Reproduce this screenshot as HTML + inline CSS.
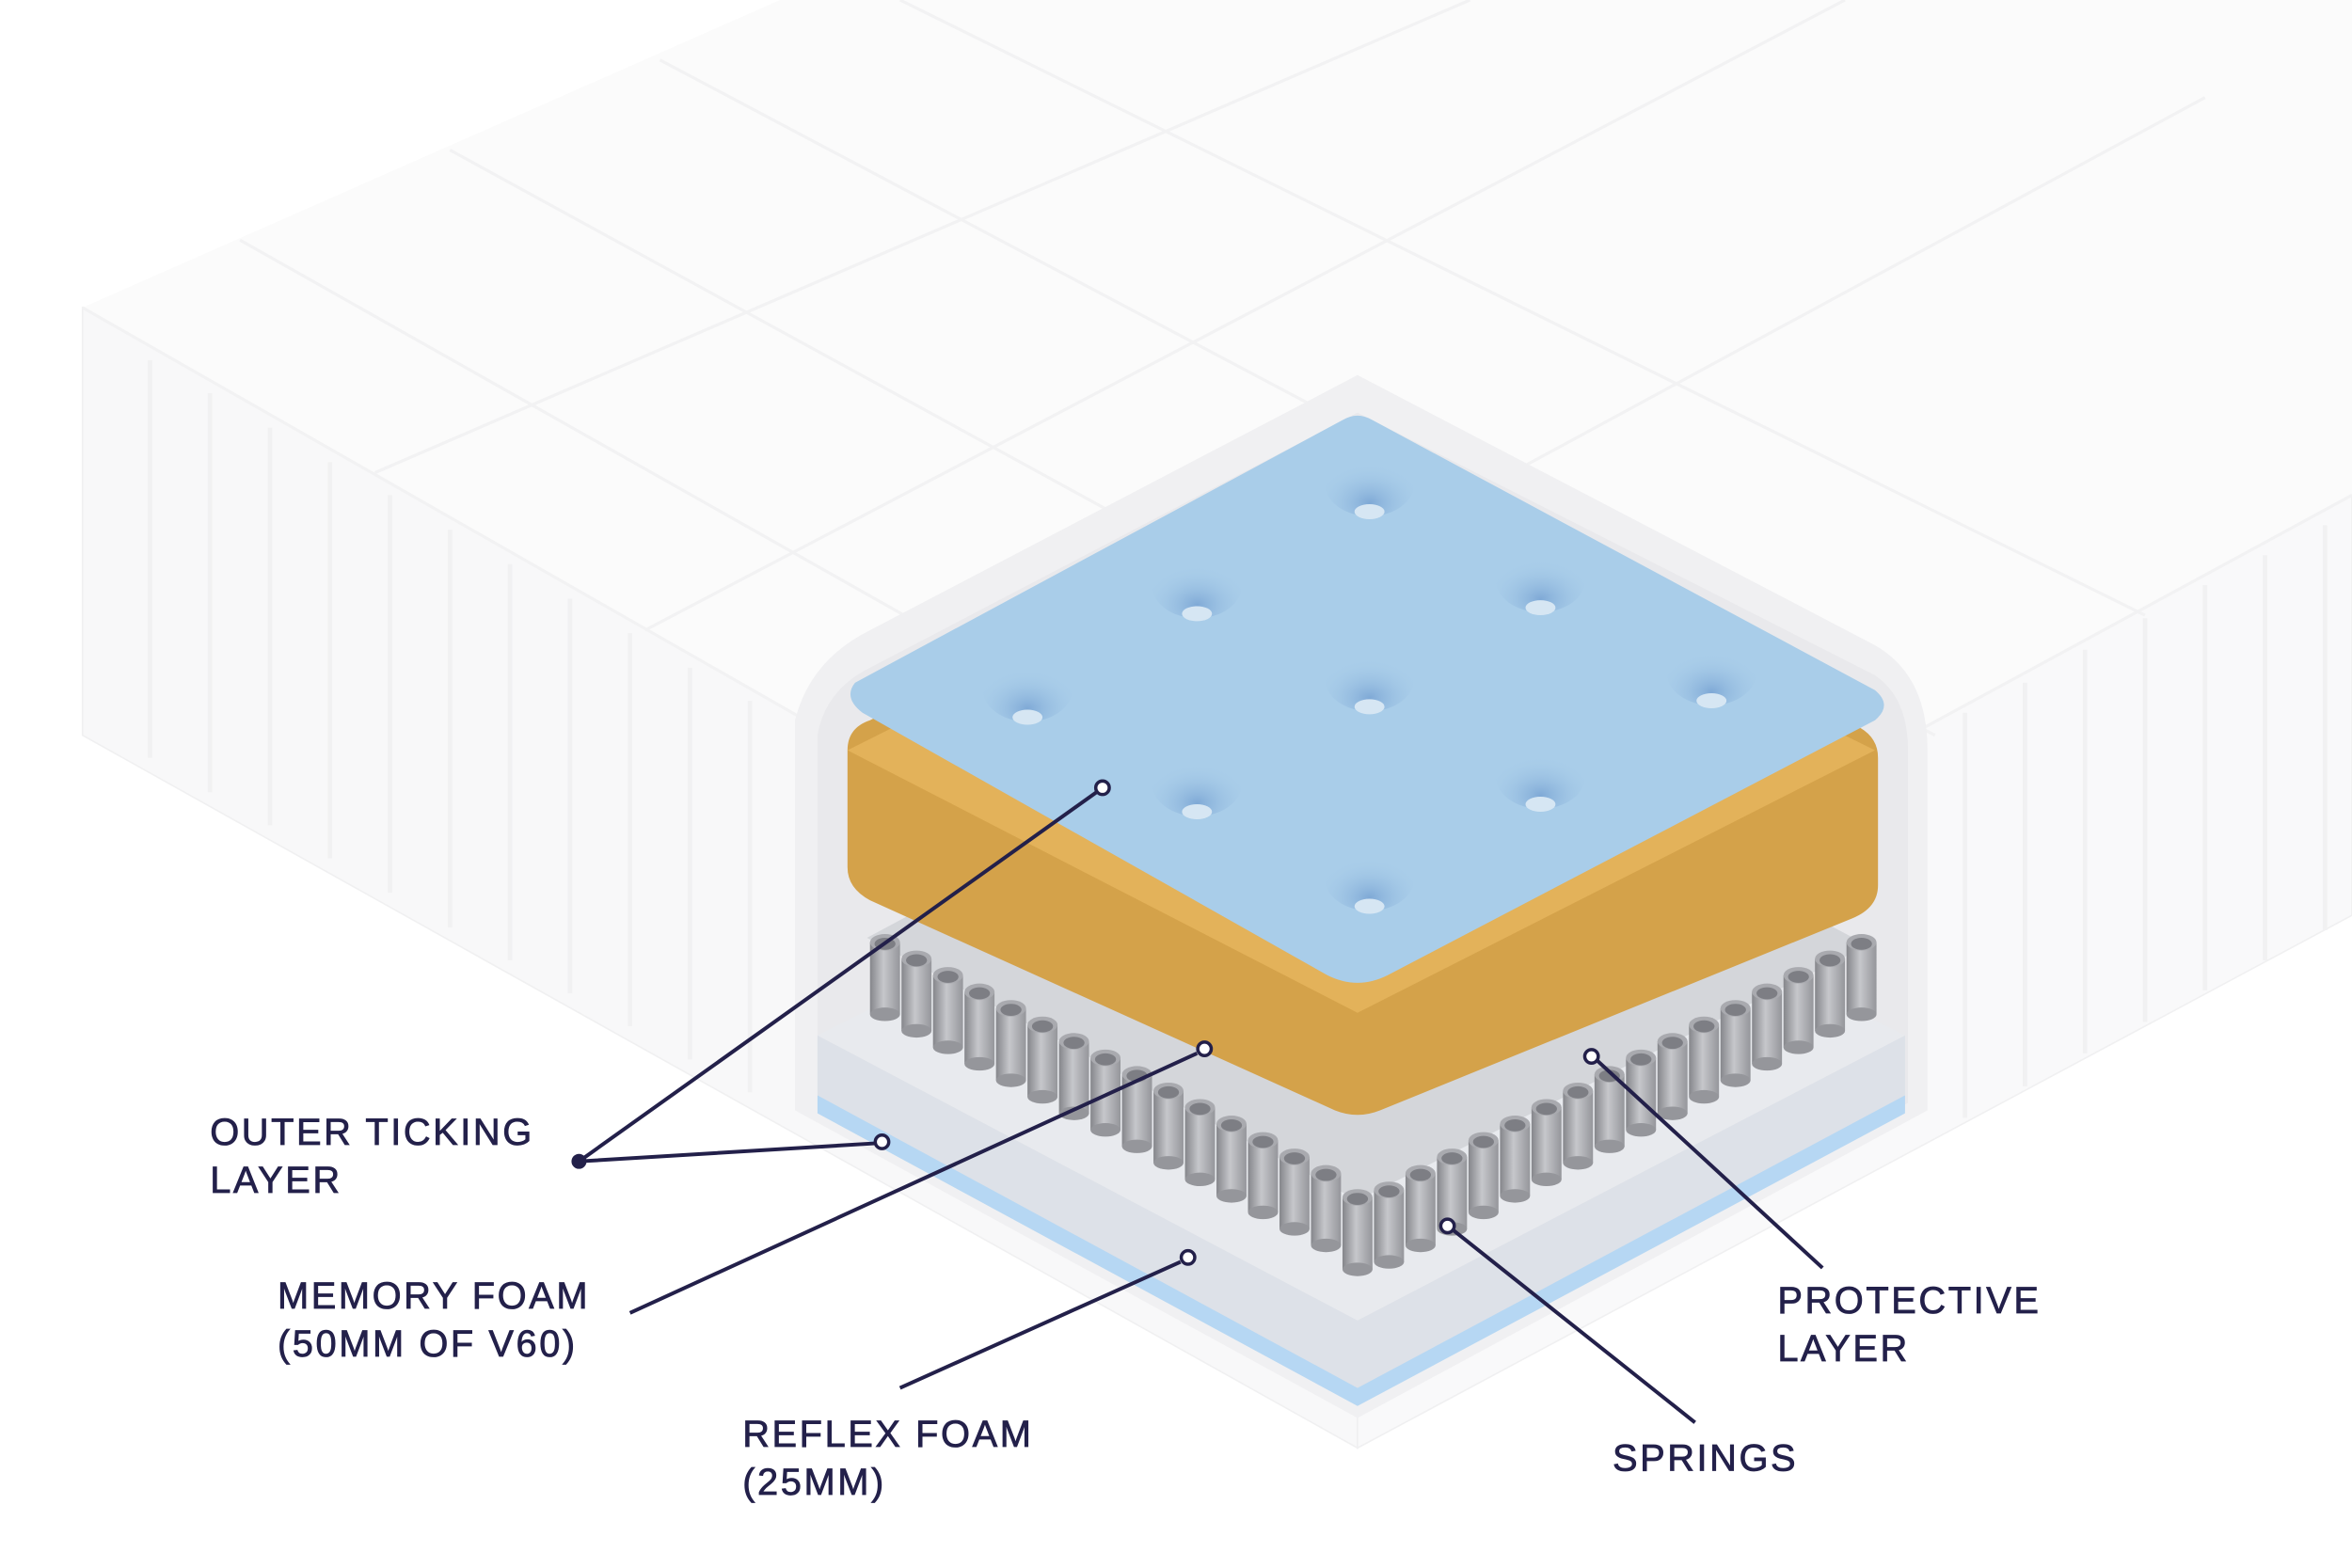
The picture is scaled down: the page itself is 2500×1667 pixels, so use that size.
<!DOCTYPE html>
<html><head><meta charset="utf-8"><style>html,body{margin:0;padding:0;background:#fff}svg{display:block}</style></head>
<body>
<svg width="2500" height="1667" viewBox="0 0 1568 1045" preserveAspectRatio="none" xmlns="http://www.w3.org/2000/svg">
<defs>
<linearGradient id="cyl" x1="0" x2="1" y1="0" y2="0">
<stop offset="0" stop-color="#85868b"/><stop offset="0.45" stop-color="#c6c7cb"/><stop offset="1" stop-color="#95969b"/></linearGradient>
<radialGradient id="dim" cx="0.5" cy="0.8" r="0.6"><stop offset="0" stop-color="#7fa9d6"/><stop offset="1" stop-color="#a9cde9" stop-opacity="0"/></radialGradient>
<g id="c"><rect x="-10" y="0" width="20" height="48" fill="url(#cyl)"/><ellipse cx="0" cy="48" rx="10" ry="4.5" fill="#95969b"/><ellipse cx="0" cy="0" rx="10" ry="5.5" fill="#a9aaaf"/><ellipse cx="0" cy="1" rx="7" ry="4" fill="#7d7e84"/></g>
</defs>
<rect width="1568" height="1045" fill="#fff"/>
<!-- mattress body -->
<polygon points="55,205 520,0 1568,0 1568,330 905,690" fill="#fbfbfb"/>
<polygon points="55,205 905,690 905,965 55,490" fill="#f8f8f9" stroke="#f0f0f1"/>
<polygon points="905,690 1568,330 1568,610 905,965" fill="#f9f9fa" stroke="#f0f0f1"/>
<g stroke="#f2f2f3" stroke-width="2" fill="none">
<path d="M55,205 L905,690 L1568,330"/>
<path d="M160,160 L1010,640 M300,100 L1150,565 M440,40 L1290,490 M600,0 L1430,410"/>
<path d="M250,315 L980,0 M430,420 L1230,0 M620,525 L1470,65"/>
</g>
<g stroke="#f1f1f2" stroke-width="3">
<path d="M100,240 V505 M140,262 V528 M180,285 V550 M220,308 V572 M260,330 V595 M300,353 V618 M340,376 V640 M380,399 V662 M420,422 V684 M460,445 V706 M500,467 V728"/>
<path d="M1310,475 V745 M1350,455 V724 M1390,433 V702 M1430,412 V681 M1470,390 V660 M1510,370 V640 M1550,350 V620"/>
</g>
<!-- cutout -->
<path d="M530,480 Q540,440 580,420 L905,250 L1250,430 Q1285,450 1285,500 L1285,740 L905,945 L530,740 Z" fill="#f0f0f2"/>
<path d="M545,490 Q550,460 580,445 L905,275 L1250,450 Q1272,465 1272,500 L1272,735 L905,935 L545,735 Z" fill="#e9e9ec"/>
<!-- reflex foam base -->
<polygon points="545,690 905,880 1270,690 1270,740 905,935 545,740" fill="#dde1e8"/>
<polygon points="545,730 905,925 1270,730 1270,742 905,937 545,742" fill="#b6d7f3"/>
<polygon points="545,690 905,510 1270,690 905,880" fill="#e8eaee"/>
<!-- springs -->
<polygon points="578,625 905,450 1245,630 905,800" fill="#d4d6da"/>
<g>
<use href="#c" x="1241" y="628"/><use href="#c" x="1220" y="639"/><use href="#c" x="1199" y="650"/><use href="#c" x="1178" y="661"/><use href="#c" x="1157" y="672"/><use href="#c" x="1136" y="683"/><use href="#c" x="1115" y="694"/><use href="#c" x="1094" y="705"/><use href="#c" x="1073" y="716"/><use href="#c" x="1052" y="727"/><use href="#c" x="1031" y="738"/><use href="#c" x="1010" y="749"/><use href="#c" x="989" y="760"/><use href="#c" x="968" y="771"/><use href="#c" x="947" y="782"/><use href="#c" x="926" y="793"/>
<use href="#c" x="590" y="628"/><use href="#c" x="611" y="639"/><use href="#c" x="632" y="650"/><use href="#c" x="653" y="661"/><use href="#c" x="674" y="672"/><use href="#c" x="695" y="683"/><use href="#c" x="716" y="694"/><use href="#c" x="737" y="705"/><use href="#c" x="758" y="716"/><use href="#c" x="779" y="727"/><use href="#c" x="800" y="738"/><use href="#c" x="821" y="749"/><use href="#c" x="842" y="760"/><use href="#c" x="863" y="771"/><use href="#c" x="884" y="782"/><use href="#c" x="905" y="798"/>
</g>
<!-- orange memory foam -->
<path d="M565,500 Q565,485 580,480 L905,315 L1240,485 Q1252,492 1252,505 L1252,590 Q1252,605 1235,612 L920,740 Q905,746 890,740 L580,600 Q565,592 565,578 Z" fill="#d4a24a"/>
<path d="M565,500 L905,330 L1250,500 L905,675 Z" fill="#e3b25a"/>
<!-- blue top layer -->
<path d="M570,455 L895,280 Q905,274 915,280 L1250,460 Q1262,470 1250,480 L925,650 Q905,660 885,650 L575,475 Q562,465 570,455 Z" fill="#a9cde9"/>
<g>
<g transform="translate(913,340)"><ellipse cx="0" cy="-18" rx="30" ry="22" fill="url(#dim)"/><ellipse cx="0" cy="1" rx="10" ry="5" fill="#d6e6f3"/></g>
<g transform="translate(798,408)"><ellipse cx="0" cy="-18" rx="30" ry="22" fill="url(#dim)"/><ellipse cx="0" cy="1" rx="10" ry="5" fill="#d6e6f3"/></g>
<g transform="translate(1027,404)"><ellipse cx="0" cy="-18" rx="30" ry="22" fill="url(#dim)"/><ellipse cx="0" cy="1" rx="10" ry="5" fill="#d6e6f3"/></g>
<g transform="translate(685,477)"><ellipse cx="0" cy="-18" rx="30" ry="22" fill="url(#dim)"/><ellipse cx="0" cy="1" rx="10" ry="5" fill="#d6e6f3"/></g>
<g transform="translate(913,470)"><ellipse cx="0" cy="-18" rx="30" ry="22" fill="url(#dim)"/><ellipse cx="0" cy="1" rx="10" ry="5" fill="#d6e6f3"/></g>
<g transform="translate(1141,466)"><ellipse cx="0" cy="-18" rx="30" ry="22" fill="url(#dim)"/><ellipse cx="0" cy="1" rx="10" ry="5" fill="#d6e6f3"/></g>
<g transform="translate(798,540)"><ellipse cx="0" cy="-18" rx="30" ry="22" fill="url(#dim)"/><ellipse cx="0" cy="1" rx="10" ry="5" fill="#d6e6f3"/></g>
<g transform="translate(1027,535)"><ellipse cx="0" cy="-18" rx="30" ry="22" fill="url(#dim)"/><ellipse cx="0" cy="1" rx="10" ry="5" fill="#d6e6f3"/></g>
<g transform="translate(913,603)"><ellipse cx="0" cy="-18" rx="30" ry="22" fill="url(#dim)"/><ellipse cx="0" cy="1" rx="10" ry="5" fill="#d6e6f3"/></g>
</g>
<!-- leader lines -->
<g stroke="#23204a" stroke-width="2.5" fill="none">
<path d="M386,774 L731,528 M386,774 L583,762 M420,875 L798,702 M600,925 L787,841 M1130,948 L969,820 M1215,845 L1065,707"/>
</g>
<circle cx="386" cy="774" r="5" fill="#23204a"/>
<g fill="#fff" stroke="#23204a" stroke-width="2.2">
<circle cx="735" cy="525" r="4.5"/><circle cx="588" cy="761" r="4.5"/><circle cx="803" cy="699" r="4.5"/><circle cx="792" cy="838" r="4.5"/><circle cx="965" cy="817" r="4.5"/><circle cx="1061" cy="704" r="4.5"/>
</g>
<g font-family="Liberation Sans, sans-serif" font-size="25" fill="#23204a" stroke="#23204a" stroke-width="0.5" letter-spacing="1.6">
<text x="140" y="763">OUTER TICKING</text><text x="140" y="795">LAYER</text>
<text x="185" y="872">MEMORY FOAM</text><text x="185" y="904">(50MM OF V60)</text>
<text x="495" y="964">REFLEX FOAM</text><text x="495" y="996">(25MM)</text>
<text x="1185" y="875">PROTECTIVE</text><text x="1185" y="907">LAYER</text>
<text x="1075" y="980">SPRINGS</text>
</g>
</svg>
</body></html>
